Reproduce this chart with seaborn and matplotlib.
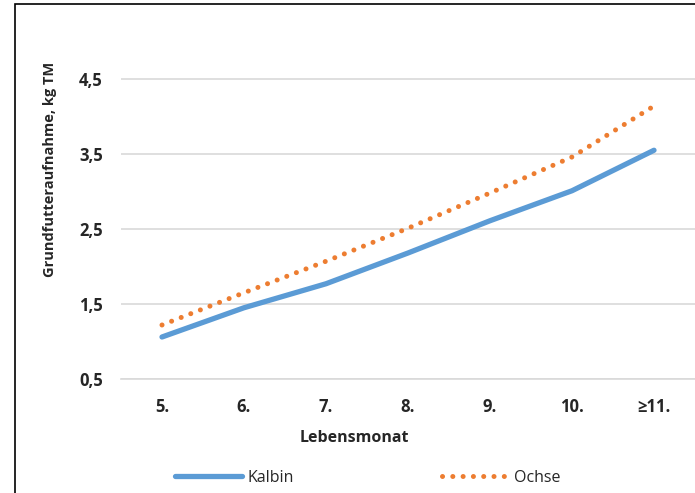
import matplotlib
matplotlib.use("Agg")
import matplotlib.pyplot as plt
import seaborn as sns
import pandas as pd
from matplotlib.patches import Rectangle

# ==== data ====
months = ["5.", "6.", "7.", "8.", "9.", "10.", "≥11."]
kalbin = [1.06, 1.45, 1.77, 2.18, 2.61, 3.01, 3.55]
ochse = [1.22, 1.65, 2.07, 2.51, 2.98, 3.46, 4.14]
y_ticks = [0.5, 1.5, 2.5, 3.5, 4.5]
y_labels = ["0,5", "1,5", "2,5", "3,5", "4,5"]

df = pd.DataFrame({
    "Lebensmonat": months * 2,
    "value": kalbin + ochse,
    "Gruppe": ["Kalbin"] * len(months) + ["Ochse"] * len(months),
})

sns.set_style("white")
plt.rcParams["font.family"] = ["Open Sans", "DejaVu Sans"]

fig = plt.figure(figsize=(6.95, 4.93), dpi=100)
W, H = 695, 493
ax_top = 41.5
ax = fig.add_axes([121 / W, 1 - 379 / H, 1 - 121 / W, (379 - ax_top) / H])
ax_w, ax_h = W - 121, 379 - ax_top

palette = {"Kalbin": "#5b9bd5", "Ochse": "#ed7d31"}
sns.lineplot(data=df, x="Lebensmonat", y="value", hue="Gruppe",
             palette=palette, ax=ax, legend=False, sort=False)

lines = ax.get_lines()
lines[0].set_linewidth(3.8)
lines[0].set_solid_capstyle("round")
lines[1].set_linewidth(3.6)
lines[1].set_linestyle((0, (0.01, 2.05)))
lines[1].set_dash_capstyle("round")

ax.set_xlim(-0.5, len(months) - 0.5)
ax.set_ylim(0.5, 5.0)
ax.set_yticks(y_ticks)
ax.set_yticklabels(y_labels, fontweight="bold", fontsize=12)
ax.set_xticks(range(len(months)))
ax.set_xticklabels(months, fontweight="bold", fontsize=12)
ax.set_xticks([i - 0.5 for i in range(len(months) + 1)], minor=True)
ax.tick_params(axis="x", which="major", length=0, pad=14)
ax.tick_params(axis="x", which="minor", length=5, color="#d9d9d9", width=1)
ax.tick_params(axis="y", length=0, pad=13)
ax.grid(axis="y", color="#d9d9d9", linewidth=1.2)
ax.grid(axis="x", visible=False)
for s in ["top", "right", "left"]:
    ax.spines[s].set_visible(False)
ax.spines["bottom"].set_color("#d9d9d9")
ax.spines["bottom"].set_linewidth(1.2)

ax.set_xlabel("Lebensmonat", fontweight="bold", fontsize=11.5)
ax.xaxis.set_label_coords((354 - 121) / ax_w, (379 - 430) / ax_h)
ax.set_ylabel("Grundfutteraufnahme, kg TM", fontweight="bold", fontsize=10.5)
ax.yaxis.set_label_coords((57 - 121) / ax_w, (379 - 169) / ax_h)

# legend at the bottom
handles = [lines[0], lines[1]]
leg = fig.legend(handles, ["Kalbin", "Ochse"], loc="center",
                 bbox_to_anchor=(368 / W, 1 - 478 / H), ncol=2, frameon=False,
                 fontsize=11.5, handlelength=4.2, handletextpad=0.3,
                 columnspacing=9.3)

# frame of the chart area (cropped on right and bottom)
fig.patches.append(Rectangle((15 / W, -0.1), 1.2, 1 - 4 / H + 0.1,
                             transform=fig.transFigure, fill=False,
                             edgecolor="black", linewidth=1.2))

fig.savefig("out.png", dpi=100)
